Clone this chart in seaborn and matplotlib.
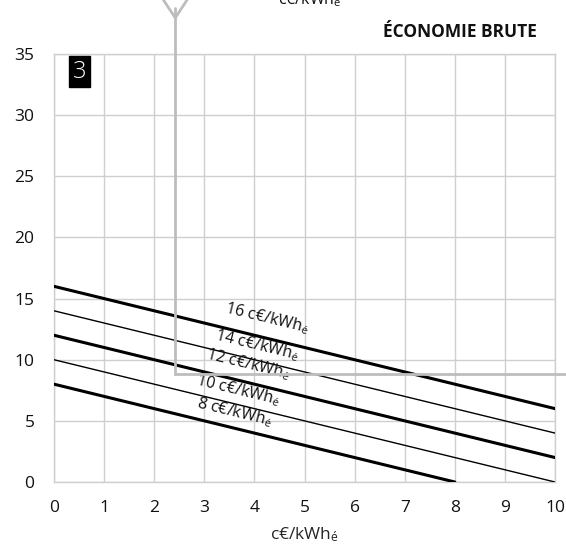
import matplotlib
matplotlib.use("Agg")
import matplotlib.pyplot as plt
import seaborn as sns
import pandas as pd
import numpy as np

# ---- data ----
prices = [16, 14, 12, 10, 8]            # c€/kWhé
line_x_start = [0, 0, 0, 0, 0]
line_x_end = [10, 10, 10, 10, 8]
line_y_start = [16, 14, 12, 10, 8]
line_y_end = [6, 4, 2, 0, 0]
thick = [True, False, True, False, True]
label_x = [4.25, 4.05, 3.87, 3.67, 3.6]
label_y = [13.4, 11.2, 9.6, 7.5, 5.7]
x_ticks = list(range(0, 11))
y_ticks = [0, 5, 10, 15, 20, 25, 30, 35]
marker_x = 2.42
marker_y = 8.8
title = "ÉCONOMIE BRUTE"
panel = "3"
unit = "c€/kWh$_{\\mathregular{é}}$"

sns.set_theme(style="white")
plt.rcParams['font.family'] = ['Open Sans', 'DejaVu Sans']
plt.rcParams['mathtext.default'] = 'regular'

rows = []
for p, xs, xe, ys, ye in zip(prices, line_x_start, line_x_end, line_y_start, line_y_end):
    rows.append({"price": p, "x": xs, "y": ys})
    rows.append({"price": p, "x": xe, "y": ye})
df = pd.DataFrame(rows)

fig = plt.figure(figsize=(5.66, 5.46), dpi=100)
ax = fig.add_axes([54/566, 1-482/546, (555-54)/566, (482-54)/546])

ax.set_xlim(0, 10)
ax.set_ylim(0, 35)
ax.set_xticks(x_ticks)
ax.set_yticks(y_ticks)
ax.grid(True, color="#cfcfcf", linewidth=1.0)
for s in ax.spines.values():
    s.set_color("#cfcfcf")
    s.set_linewidth(1.0)
ax.tick_params(length=0, labelsize=12.5, colors="#111111")
ax.tick_params(axis='x', pad=13)
ax.tick_params(axis='y', pad=14)

for p, th in zip(prices, thick):
    sns.lineplot(data=df[df.price == p], x="x", y="y", ax=ax, color="black",
                 linewidth=2.2 if th else 1.0, legend=False, zorder=3)

ax.set_xlabel(unit, fontsize=12.5, labelpad=7)
ax.set_ylabel("")

# rotation angle of the lines on screen
fig.canvas.draw()
p0 = ax.transData.transform((0, 16))
p1 = ax.transData.transform((10, 6))
ang = np.degrees(np.arctan2(p1[1]-p0[1], p1[0]-p0[0]))
for p, lx, ly in zip(prices, label_x, label_y):
    ax.text(lx, ly, f"{p} " + unit, rotation=ang, rotation_mode="anchor",
            ha="center", va="center", fontsize=11.5, color="#111111", zorder=4)

# gray marker lines
gray = "#bdbdbd"
ax.plot([marker_x, marker_x, 10.25], [38.8, marker_y, marker_y], color=gray,
        linewidth=2.0, clip_on=False, zorder=5, solid_joinstyle="miter")
# arrow head (V) at the top
ax.plot([marker_x - 0.24, marker_x, marker_x + 0.24], [39.45, 37.95, 39.45],
        color=gray, linewidth=2.0, clip_on=False, zorder=5)

# top unit text (cut off at the top edge, as in the reference)
fig.text(310/566, 1-4/546, "c€/kWh$_{\\mathregular{é}}$", ha="center",
         va="baseline", fontsize=11.5, color="#111111")

# title
fig.text(537/566, 1-32/546, title, ha="right", va="center", fontsize=12.5,
         fontweight="bold", color="#111111")

# panel number box
ax.text(0.51, 33.55, panel, ha="center", va="center", fontsize=17, color="white",
        fontweight="light",
        bbox=dict(boxstyle="square,pad=0.14", facecolor="black", edgecolor="black"),
        zorder=6)

fig.savefig("out.png", dpi=100)
